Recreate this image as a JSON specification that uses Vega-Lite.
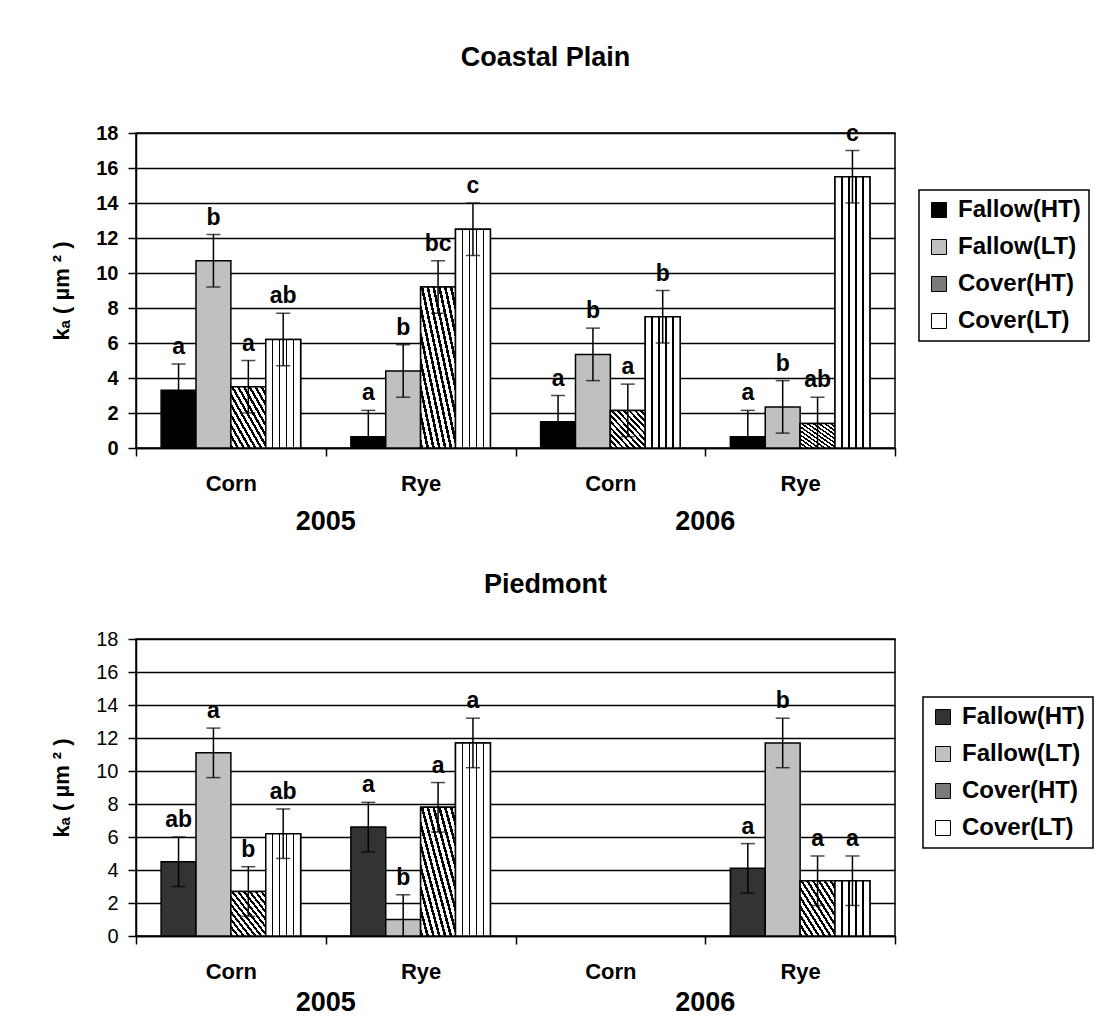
{
  "$schema": "https://vega.github.io/schema/vega-lite/v6.json",
  "background": "white",
  "padding": {"left": 50, "top": 42, "right": 5, "bottom": 5},
  "config": {
    "font": "Liberation Sans",
    "view": {"stroke": "black", "strokeWidth": 1.5},
    "axis": {"domainColor": "black", "tickColor": "black", "labelColor": "black", "titleColor": "black", "domainWidth": 1.5, "tickWidth": 1.5, "gridColor": "black", "gridWidth": 1.5, "gridOpacity": 1},
    "title": {"color": "black", "fontSize": 27, "fontWeight": "bold"},
    "legend": {"strokeColor": "black", "strokeWidth": 1.5, "padding": 8, "labelFontSize": 24, "labelFontWeight": "bold", "labelColor": "black", "symbolType": "square", "symbolSize": 225, "symbolStrokeColor": "black", "symbolStrokeWidth": 1, "rowPadding": 13, "labelOffset": 7, "symbolOpacity": 1, "labelLimit": 300}
  },
  "datasets": {
    "coastal": [
      {"group": "2005 Corn", "series": "Fallow(HT)", "value": 3.3, "lo": 1.8, "hi": 4.8, "letter": "a"},
      {"group": "2005 Corn", "series": "Fallow(LT)", "value": 10.7, "lo": 9.2, "hi": 12.2, "letter": "b"},
      {"group": "2005 Corn", "series": "Cover(HT)", "value": 3.5, "lo": 2.0, "hi": 5.0, "letter": "a"},
      {"group": "2005 Corn", "series": "Cover(LT)", "value": 6.2, "lo": 4.7, "hi": 7.7, "letter": "ab"},
      {"group": "2005 Rye", "series": "Fallow(HT)", "value": 0.65, "lo": -0.85, "hi": 2.15, "letter": "a"},
      {"group": "2005 Rye", "series": "Fallow(LT)", "value": 4.4, "lo": 2.9, "hi": 5.9, "letter": "b"},
      {"group": "2005 Rye", "series": "Cover(HT)", "value": 9.2, "lo": 7.7, "hi": 10.7, "letter": "bc"},
      {"group": "2005 Rye", "series": "Cover(LT)", "value": 12.5, "lo": 11.0, "hi": 14.0, "letter": "c"},
      {"group": "2006 Corn", "series": "Fallow(HT)", "value": 1.5, "lo": 0.0, "hi": 3.0, "letter": "a"},
      {"group": "2006 Corn", "series": "Fallow(LT)", "value": 5.35, "lo": 3.85, "hi": 6.85, "letter": "b"},
      {"group": "2006 Corn", "series": "Cover(HT)", "value": 2.15, "lo": 0.65, "hi": 3.65, "letter": "a"},
      {"group": "2006 Corn", "series": "Cover(LT)", "value": 7.5, "lo": 6.0, "hi": 9.0, "letter": "b"},
      {"group": "2006 Rye", "series": "Fallow(HT)", "value": 0.65, "lo": -0.85, "hi": 2.15, "letter": "a"},
      {"group": "2006 Rye", "series": "Fallow(LT)", "value": 2.35, "lo": 0.85, "hi": 3.85, "letter": "b"},
      {"group": "2006 Rye", "series": "Cover(HT)", "value": 1.4, "lo": -0.1, "hi": 2.9, "letter": "ab"},
      {"group": "2006 Rye", "series": "Cover(LT)", "value": 15.5, "lo": 14.0, "hi": 17.0, "letter": "c"}
    ],
    "piedmont": [
      {"group": "2005 Corn", "series": "Fallow(HT)", "value": 4.5, "lo": 3.0, "hi": 6.0, "letter": "ab"},
      {"group": "2005 Corn", "series": "Fallow(LT)", "value": 11.1, "lo": 9.6, "hi": 12.6, "letter": "a"},
      {"group": "2005 Corn", "series": "Cover(HT)", "value": 2.7, "lo": 1.2, "hi": 4.2, "letter": "b"},
      {"group": "2005 Corn", "series": "Cover(LT)", "value": 6.2, "lo": 4.7, "hi": 7.7, "letter": "ab"},
      {"group": "2005 Rye", "series": "Fallow(HT)", "value": 6.6, "lo": 5.1, "hi": 8.1, "letter": "a"},
      {"group": "2005 Rye", "series": "Fallow(LT)", "value": 1.0, "lo": -0.5, "hi": 2.5, "letter": "b"},
      {"group": "2005 Rye", "series": "Cover(HT)", "value": 7.8, "lo": 6.3, "hi": 9.3, "letter": "a"},
      {"group": "2005 Rye", "series": "Cover(LT)", "value": 11.7, "lo": 10.2, "hi": 13.2, "letter": "a"},
      {"group": "2006 Rye", "series": "Fallow(HT)", "value": 4.1, "lo": 2.6, "hi": 5.6, "letter": "a"},
      {"group": "2006 Rye", "series": "Fallow(LT)", "value": 11.7, "lo": 10.2, "hi": 13.2, "letter": "b"},
      {"group": "2006 Rye", "series": "Cover(HT)", "value": 3.35, "lo": 1.85, "hi": 4.85, "letter": "a"},
      {"group": "2006 Rye", "series": "Cover(LT)", "value": 3.35, "lo": 1.85, "hi": 4.85, "letter": "a"}
    ],
    "years": [{"year": "2005"}, {"year": "2006"}]
  },
  "spacing": 35,
  "resolve": {"scale": {"fill": "independent"}, "legend": {"fill": "independent"}},
  "vconcat": [
    {
      "title": {"text": "Coastal Plain", "offset": 51, "dx": 30},
      "width": 759,
      "height": 315,
      "resolve": {"scale": {"x": "independent"}, "axis": {"x": "independent"}},
      "layer": [
        {
          "data": {"name": "years"},
          "mark": {"type": "rect", "opacity": 0},
          "encoding": {
            "x": {"field": "year", "type": "nominal", "scale": {"domain": ["2005", "2006"], "paddingInner": 0, "paddingOuter": 0},
              "axis": {"orient": "bottom", "title": null, "ticks": false, "tickSize": 0, "domain": false, "labelFontSize": 27, "labelFontWeight": "bold", "labelPadding": 60, "labelAngle": 0}}
          }
        },
        {
          "data": {"name": "coastal"},
          "encoding": {
            "x": {"field": "group", "type": "nominal", "scale": {"domain": ["2005 Corn", "2005 Rye", "2006 Corn", "2006 Rye"], "paddingInner": 0, "paddingOuter": 0},
              "axis": {"orient": "bottom", "title": null, "tickBand": "extent", "tickSize": 8, "labelFontSize": 22, "labelFontWeight": "bold", "labelPadding": 17, "labelAngle": 0, "labelExpr": "split(datum.label, ' ')[1]"}},
            "xOffset": {"field": "series", "type": "nominal", "scale": {"domain": ["Fallow(HT)", "Fallow(LT)", "Cover(HT)", "Cover(LT)"], "paddingInner": 0, "paddingOuter": 0.72}}
          },
          "layer": [
            {
              "mark": {"type": "bar", "stroke": "black", "strokeWidth": 1.5},
              "encoding": {
                "y": {"field": "value", "type": "quantitative", "scale": {"domain": [0, 18], "nice": false},
                  "axis": {"values": [0, 2, 4, 6, 8, 10, 12, 14, 16, 18], "grid": true, "tickSize": 8, "labelFontSize": 20, "labelFontWeight": "bold", "labelPadding": 10, "labelOverlap": false, "title": "kₐ ( µm ² )", "titleFontSize": 22, "titleFontWeight": "bold", "titlePadding": 22}},
                "fill": {"field": "series", "type": "nominal",
                  "scale": {"domain": ["Fallow(HT)", "Fallow(LT)", "Cover(HT)", "Cover(LT)"], "range": ["#000000", "#c0c0c0", "#7a7a7a", "#ffffff"]},
                  "legend": {"orient": "none", "legendX": 783, "legendY": 57, "title": null}}
              }
            },
            {
              "transform": [{"filter": "datum.series === 'Cover(HT)'"}],
              "mark": {"type": "bar", "stroke": "black", "strokeWidth": 1.5,
                "fill": {"gradient": "linear", "x1": 0, "y1": 1, "x2": 1, "y2": 0, "stops": [
                  {"offset": 0, "color": "black"}, {"offset": 0.0375, "color": "black"}, {"offset": 0.0375, "color": "white"}, {"offset": 0.0833, "color": "white"},
                  {"offset": 0.0833, "color": "black"}, {"offset": 0.1208, "color": "black"}, {"offset": 0.1208, "color": "white"}, {"offset": 0.1667, "color": "white"},
                  {"offset": 0.1667, "color": "black"}, {"offset": 0.2042, "color": "black"}, {"offset": 0.2042, "color": "white"}, {"offset": 0.25, "color": "white"},
                  {"offset": 0.25, "color": "black"}, {"offset": 0.2875, "color": "black"}, {"offset": 0.2875, "color": "white"}, {"offset": 0.3333, "color": "white"},
                  {"offset": 0.3333, "color": "black"}, {"offset": 0.3708, "color": "black"}, {"offset": 0.3708, "color": "white"}, {"offset": 0.4167, "color": "white"},
                  {"offset": 0.4167, "color": "black"}, {"offset": 0.4542, "color": "black"}, {"offset": 0.4542, "color": "white"}, {"offset": 0.5, "color": "white"},
                  {"offset": 0.5, "color": "black"}, {"offset": 0.5375, "color": "black"}, {"offset": 0.5375, "color": "white"}, {"offset": 0.5833, "color": "white"},
                  {"offset": 0.5833, "color": "black"}, {"offset": 0.6208, "color": "black"}, {"offset": 0.6208, "color": "white"}, {"offset": 0.6667, "color": "white"},
                  {"offset": 0.6667, "color": "black"}, {"offset": 0.7042, "color": "black"}, {"offset": 0.7042, "color": "white"}, {"offset": 0.75, "color": "white"},
                  {"offset": 0.75, "color": "black"}, {"offset": 0.7875, "color": "black"}, {"offset": 0.7875, "color": "white"}, {"offset": 0.8333, "color": "white"},
                  {"offset": 0.8333, "color": "black"}, {"offset": 0.8708, "color": "black"}, {"offset": 0.8708, "color": "white"}, {"offset": 0.9167, "color": "white"},
                  {"offset": 0.9167, "color": "black"}, {"offset": 0.9542, "color": "black"}, {"offset": 0.9542, "color": "white"}, {"offset": 1, "color": "white"}]}},
              "encoding": {"y": {"field": "value", "type": "quantitative", "scale": {"domain": [0, 18], "nice": false},
                "axis": {"values": [0, 2, 4, 6, 8, 10, 12, 14, 16, 18], "grid": true, "tickSize": 8, "labelFontSize": 20, "labelFontWeight": "bold", "labelPadding": 10, "labelOverlap": false, "title": "kₐ ( µm ² )", "titleFontSize": 22, "titleFontWeight": "bold", "titlePadding": 22}}}
            },
            {
              "transform": [{"filter": "datum.series === 'Cover(LT)'"}],
              "mark": {"type": "bar", "stroke": "black", "strokeWidth": 1.5,
                "fill": {"gradient": "linear", "x1": 0, "y1": 0, "x2": 1, "y2": 0, "stops": [
                  {"offset": 0, "color": "white"}, {"offset": 0.178, "color": "white"}, {"offset": 0.178, "color": "black"}, {"offset": 0.222, "color": "black"}, {"offset": 0.222, "color": "white"},
                  {"offset": 0.378, "color": "white"}, {"offset": 0.378, "color": "black"}, {"offset": 0.422, "color": "black"}, {"offset": 0.422, "color": "white"},
                  {"offset": 0.578, "color": "white"}, {"offset": 0.578, "color": "black"}, {"offset": 0.622, "color": "black"}, {"offset": 0.622, "color": "white"},
                  {"offset": 0.778, "color": "white"}, {"offset": 0.778, "color": "black"}, {"offset": 0.822, "color": "black"}, {"offset": 0.822, "color": "white"},
                  {"offset": 1, "color": "white"}]}},
              "encoding": {"y": {"field": "value", "type": "quantitative", "scale": {"domain": [0, 18], "nice": false},
                "axis": {"values": [0, 2, 4, 6, 8, 10, 12, 14, 16, 18], "grid": true, "tickSize": 8, "labelFontSize": 20, "labelFontWeight": "bold", "labelPadding": 10, "labelOverlap": false, "title": "kₐ ( µm ² )", "titleFontSize": 22, "titleFontWeight": "bold", "titlePadding": 22}}}
            },
            {
              "mark": {"type": "rule", "color": "black", "strokeWidth": 1.5, "clip": true},
              "encoding": {
                "y": {"field": "lo", "type": "quantitative", "scale": {"domain": [0, 18], "nice": false},
                  "axis": {"values": [0, 2, 4, 6, 8, 10, 12, 14, 16, 18], "grid": true, "tickSize": 8, "labelFontSize": 20, "labelFontWeight": "bold", "labelPadding": 10, "labelOverlap": false, "title": "kₐ ( µm ² )", "titleFontSize": 22, "titleFontWeight": "bold", "titlePadding": 22}},
                "y2": {"field": "hi"}
              }
            },
            {
              "mark": {"type": "tick", "orient": "horizontal", "size": 14, "thickness": 1.5, "color": "black", "clip": true},
              "encoding": {"y": {"field": "lo", "type": "quantitative", "scale": {"domain": [0, 18], "nice": false},
                "axis": {"values": [0, 2, 4, 6, 8, 10, 12, 14, 16, 18], "grid": true, "tickSize": 8, "labelFontSize": 20, "labelFontWeight": "bold", "labelPadding": 10, "labelOverlap": false, "title": "kₐ ( µm ² )", "titleFontSize": 22, "titleFontWeight": "bold", "titlePadding": 22}}}
            },
            {
              "mark": {"type": "tick", "orient": "horizontal", "size": 14, "thickness": 1.5, "color": "black", "clip": true},
              "encoding": {"y": {"field": "hi", "type": "quantitative", "scale": {"domain": [0, 18], "nice": false},
                "axis": {"values": [0, 2, 4, 6, 8, 10, 12, 14, 16, 18], "grid": true, "tickSize": 8, "labelFontSize": 20, "labelFontWeight": "bold", "labelPadding": 10, "labelOverlap": false, "title": "kₐ ( µm ² )", "titleFontSize": 22, "titleFontWeight": "bold", "titlePadding": 22}}}
            },
            {
              "mark": {"type": "text", "fontSize": 23, "fontWeight": "bold", "baseline": "bottom", "dy": -5, "color": "black"},
              "encoding": {
                "y": {"field": "hi", "type": "quantitative", "scale": {"domain": [0, 18], "nice": false},
                  "axis": {"values": [0, 2, 4, 6, 8, 10, 12, 14, 16, 18], "grid": true, "tickSize": 8, "labelFontSize": 20, "labelFontWeight": "bold", "labelPadding": 10, "labelOverlap": false, "title": "kₐ ( µm ² )", "titleFontSize": 22, "titleFontWeight": "bold", "titlePadding": 22}},
                "text": {"field": "letter"}
              }
            }
          ]
        }
      ]
    },
    {
      "title": {"text": "Piedmont", "offset": 30, "dx": 30},
      "width": 759,
      "height": 297,
      "resolve": {"scale": {"x": "independent"}, "axis": {"x": "independent"}},
      "layer": [
        {
          "data": {"name": "years"},
          "mark": {"type": "rect", "opacity": 0},
          "encoding": {
            "x": {"field": "year", "type": "nominal", "scale": {"domain": ["2005", "2006"], "paddingInner": 0, "paddingOuter": 0},
              "axis": {"orient": "bottom", "title": null, "ticks": false, "tickSize": 0, "domain": false, "labelFontSize": 27, "labelFontWeight": "bold", "labelPadding": 53, "labelAngle": 0}}
          }
        },
        {
          "data": {"name": "piedmont"},
          "encoding": {
            "x": {"field": "group", "type": "nominal", "scale": {"domain": ["2005 Corn", "2005 Rye", "2006 Corn", "2006 Rye"], "paddingInner": 0, "paddingOuter": 0},
              "axis": {"orient": "bottom", "title": null, "tickBand": "extent", "tickSize": 8, "labelFontSize": 22, "labelFontWeight": "bold", "labelPadding": 17, "labelAngle": 0, "labelExpr": "split(datum.label, ' ')[1]"}},
            "xOffset": {"field": "series", "type": "nominal", "scale": {"domain": ["Fallow(HT)", "Fallow(LT)", "Cover(HT)", "Cover(LT)"], "paddingInner": 0, "paddingOuter": 0.72}}
          },
          "layer": [
            {
              "mark": {"type": "bar", "stroke": "black", "strokeWidth": 1.5},
              "encoding": {
                "y": {"field": "value", "type": "quantitative", "scale": {"domain": [0, 18], "nice": false},
                  "axis": {"values": [0, 2, 4, 6, 8, 10, 12, 14, 16, 18], "grid": true, "tickSize": 8, "labelFontSize": 20, "labelFontWeight": "normal", "labelPadding": 10, "labelOverlap": false, "title": "kₐ ( µm ² )", "titleFontSize": 22, "titleFontWeight": "bold", "titlePadding": 22}},
                "fill": {"field": "series", "type": "nominal",
                  "scale": {"domain": ["Fallow(HT)", "Fallow(LT)", "Cover(HT)", "Cover(LT)"], "range": ["#333333", "#c0c0c0", "#7a7a7a", "#ffffff"]},
                  "legend": {"orient": "none", "legendX": 787, "legendY": 58, "title": null}}
              }
            },
            {
              "transform": [{"filter": "datum.series === 'Cover(HT)'"}],
              "mark": {"type": "bar", "stroke": "black", "strokeWidth": 1.5,
                "fill": {"gradient": "linear", "x1": 0, "y1": 1, "x2": 1, "y2": 0, "stops": [
                  {"offset": 0, "color": "black"}, {"offset": 0.0375, "color": "black"}, {"offset": 0.0375, "color": "white"}, {"offset": 0.0833, "color": "white"},
                  {"offset": 0.0833, "color": "black"}, {"offset": 0.1208, "color": "black"}, {"offset": 0.1208, "color": "white"}, {"offset": 0.1667, "color": "white"},
                  {"offset": 0.1667, "color": "black"}, {"offset": 0.2042, "color": "black"}, {"offset": 0.2042, "color": "white"}, {"offset": 0.25, "color": "white"},
                  {"offset": 0.25, "color": "black"}, {"offset": 0.2875, "color": "black"}, {"offset": 0.2875, "color": "white"}, {"offset": 0.3333, "color": "white"},
                  {"offset": 0.3333, "color": "black"}, {"offset": 0.3708, "color": "black"}, {"offset": 0.3708, "color": "white"}, {"offset": 0.4167, "color": "white"},
                  {"offset": 0.4167, "color": "black"}, {"offset": 0.4542, "color": "black"}, {"offset": 0.4542, "color": "white"}, {"offset": 0.5, "color": "white"},
                  {"offset": 0.5, "color": "black"}, {"offset": 0.5375, "color": "black"}, {"offset": 0.5375, "color": "white"}, {"offset": 0.5833, "color": "white"},
                  {"offset": 0.5833, "color": "black"}, {"offset": 0.6208, "color": "black"}, {"offset": 0.6208, "color": "white"}, {"offset": 0.6667, "color": "white"},
                  {"offset": 0.6667, "color": "black"}, {"offset": 0.7042, "color": "black"}, {"offset": 0.7042, "color": "white"}, {"offset": 0.75, "color": "white"},
                  {"offset": 0.75, "color": "black"}, {"offset": 0.7875, "color": "black"}, {"offset": 0.7875, "color": "white"}, {"offset": 0.8333, "color": "white"},
                  {"offset": 0.8333, "color": "black"}, {"offset": 0.8708, "color": "black"}, {"offset": 0.8708, "color": "white"}, {"offset": 0.9167, "color": "white"},
                  {"offset": 0.9167, "color": "black"}, {"offset": 0.9542, "color": "black"}, {"offset": 0.9542, "color": "white"}, {"offset": 1, "color": "white"}]}},
              "encoding": {"y": {"field": "value", "type": "quantitative", "scale": {"domain": [0, 18], "nice": false},
                "axis": {"values": [0, 2, 4, 6, 8, 10, 12, 14, 16, 18], "grid": true, "tickSize": 8, "labelFontSize": 20, "labelFontWeight": "normal", "labelPadding": 10, "labelOverlap": false, "title": "kₐ ( µm ² )", "titleFontSize": 22, "titleFontWeight": "bold", "titlePadding": 22}}}
            },
            {
              "transform": [{"filter": "datum.series === 'Cover(LT)'"}],
              "mark": {"type": "bar", "stroke": "black", "strokeWidth": 1.5,
                "fill": {"gradient": "linear", "x1": 0, "y1": 0, "x2": 1, "y2": 0, "stops": [
                  {"offset": 0, "color": "white"}, {"offset": 0.178, "color": "white"}, {"offset": 0.178, "color": "black"}, {"offset": 0.222, "color": "black"}, {"offset": 0.222, "color": "white"},
                  {"offset": 0.378, "color": "white"}, {"offset": 0.378, "color": "black"}, {"offset": 0.422, "color": "black"}, {"offset": 0.422, "color": "white"},
                  {"offset": 0.578, "color": "white"}, {"offset": 0.578, "color": "black"}, {"offset": 0.622, "color": "black"}, {"offset": 0.622, "color": "white"},
                  {"offset": 0.778, "color": "white"}, {"offset": 0.778, "color": "black"}, {"offset": 0.822, "color": "black"}, {"offset": 0.822, "color": "white"},
                  {"offset": 1, "color": "white"}]}},
              "encoding": {"y": {"field": "value", "type": "quantitative", "scale": {"domain": [0, 18], "nice": false},
                "axis": {"values": [0, 2, 4, 6, 8, 10, 12, 14, 16, 18], "grid": true, "tickSize": 8, "labelFontSize": 20, "labelFontWeight": "normal", "labelPadding": 10, "labelOverlap": false, "title": "kₐ ( µm ² )", "titleFontSize": 22, "titleFontWeight": "bold", "titlePadding": 22}}}
            },
            {
              "mark": {"type": "rule", "color": "black", "strokeWidth": 1.5, "clip": true},
              "encoding": {
                "y": {"field": "lo", "type": "quantitative", "scale": {"domain": [0, 18], "nice": false},
                  "axis": {"values": [0, 2, 4, 6, 8, 10, 12, 14, 16, 18], "grid": true, "tickSize": 8, "labelFontSize": 20, "labelFontWeight": "normal", "labelPadding": 10, "labelOverlap": false, "title": "kₐ ( µm ² )", "titleFontSize": 22, "titleFontWeight": "bold", "titlePadding": 22}},
                "y2": {"field": "hi"}
              }
            },
            {
              "mark": {"type": "tick", "orient": "horizontal", "size": 14, "thickness": 1.5, "color": "black", "clip": true},
              "encoding": {"y": {"field": "lo", "type": "quantitative", "scale": {"domain": [0, 18], "nice": false},
                "axis": {"values": [0, 2, 4, 6, 8, 10, 12, 14, 16, 18], "grid": true, "tickSize": 8, "labelFontSize": 20, "labelFontWeight": "normal", "labelPadding": 10, "labelOverlap": false, "title": "kₐ ( µm ² )", "titleFontSize": 22, "titleFontWeight": "bold", "titlePadding": 22}}}
            },
            {
              "mark": {"type": "tick", "orient": "horizontal", "size": 14, "thickness": 1.5, "color": "black", "clip": true},
              "encoding": {"y": {"field": "hi", "type": "quantitative", "scale": {"domain": [0, 18], "nice": false},
                "axis": {"values": [0, 2, 4, 6, 8, 10, 12, 14, 16, 18], "grid": true, "tickSize": 8, "labelFontSize": 20, "labelFontWeight": "normal", "labelPadding": 10, "labelOverlap": false, "title": "kₐ ( µm ² )", "titleFontSize": 22, "titleFontWeight": "bold", "titlePadding": 22}}}
            },
            {
              "mark": {"type": "text", "fontSize": 23, "fontWeight": "bold", "baseline": "bottom", "dy": -5, "color": "black"},
              "encoding": {
                "y": {"field": "hi", "type": "quantitative", "scale": {"domain": [0, 18], "nice": false},
                  "axis": {"values": [0, 2, 4, 6, 8, 10, 12, 14, 16, 18], "grid": true, "tickSize": 8, "labelFontSize": 20, "labelFontWeight": "normal", "labelPadding": 10, "labelOverlap": false, "title": "kₐ ( µm ² )", "titleFontSize": 22, "titleFontWeight": "bold", "titlePadding": 22}},
                "text": {"field": "letter"}
              }
            }
          ]
        }
      ]
    }
  ]
}
